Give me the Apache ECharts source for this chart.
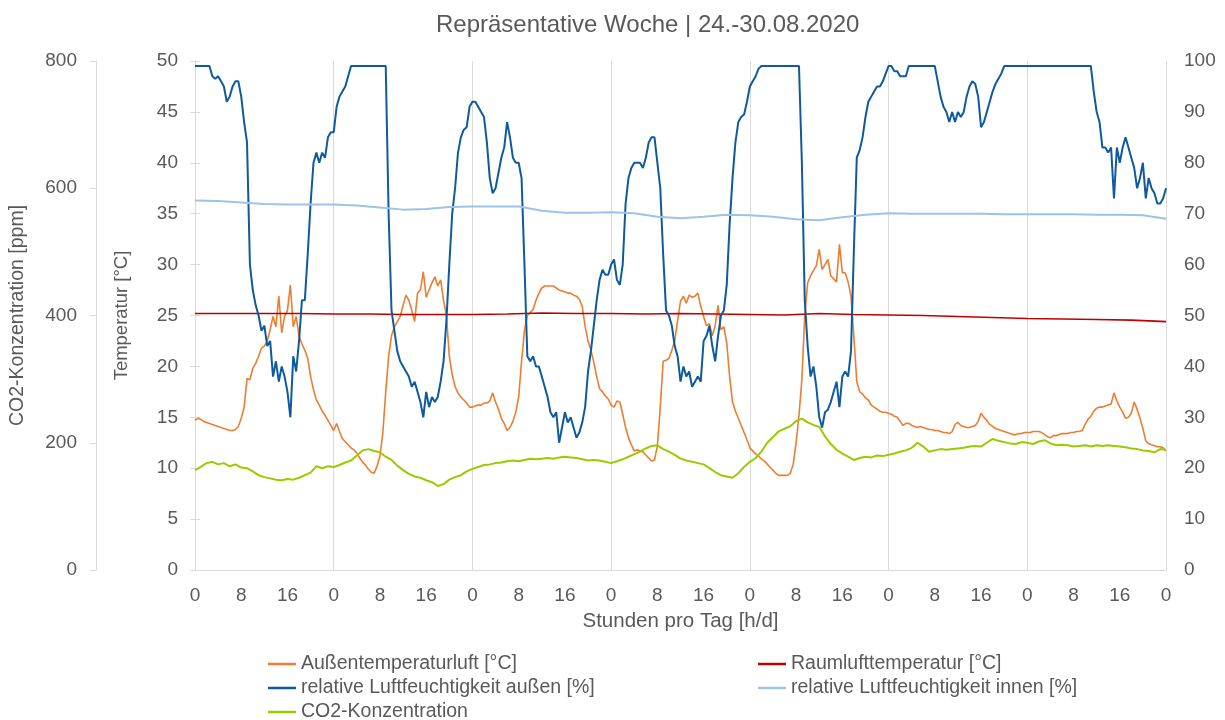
<!DOCTYPE html>
<html>
<head>
<meta charset="utf-8">
<title>Repräsentative Woche</title>
<script src="https://cdn.jsdelivr.net/npm/echarts@6/dist/echarts.min.js"></script>
<style>
  html, body { margin: 0; padding: 0; background: #fff; }
  #chart { width: 1225px; height: 720px; }
</style>
</head>
<body>
<div id="chart"></div>
<script>
// halbstündliche Werte, 0..168 h (eine Zeile = 6 Stunden)
var tempOut = [
  14.7, 14.9, 14.8, 14.6, 14.5, 14.4, 14.3, 14.2, 14.1, 14.0, 13.9, 13.8,
  13.7, 13.7, 13.8, 14.1, 14.9, 16.0, 18.8, 18.7, 19.8, 20.3, 21.0, 21.8,
  22.0, 22.5, 23.6, 24.9, 23.9, 26.9, 23.3, 24.9, 25.5, 28.0, 23.9, 24.9,
  23.0, 22.2, 21.6, 20.8, 19.0, 17.7, 16.7, 16.2, 15.6, 15.2, 14.7, 14.2,
  13.7, 14.4, 13.6, 12.9, 12.6, 12.3, 12.0, 11.8, 11.5, 11.0, 10.6, 10.3,
  9.9, 9.6, 9.5, 10.2, 11.2, 13.5, 17.5, 21.0, 23.0, 23.9, 24.4, 24.9,
  26.0, 27.0, 26.5, 25.5, 24.4, 27.2, 27.5, 29.3, 26.8, 27.5, 28.2, 28.8,
  27.9, 28.5, 26.5, 25.0, 21.0, 19.2, 18.0, 17.4, 17.0, 16.7, 16.4, 16.0,
  16.0, 16.1, 16.2, 16.2, 16.4, 16.4, 16.6, 17.4, 16.5, 15.8, 14.9, 14.4,
  13.7, 14.0, 14.6, 15.5, 17.0, 20.5, 23.5, 25.0, 25.3, 25.6, 26.5, 27.2,
  27.7, 27.9, 27.9, 27.9, 27.9, 27.7, 27.5, 27.4, 27.3, 27.2, 27.2, 27.0,
  26.9, 26.6, 25.9, 23.9, 22.5, 21.6, 20.4, 19.0, 17.8, 17.5, 17.1, 16.8,
  16.2, 16.0, 16.6, 16.5, 15.3, 14.0, 13.0, 12.3, 11.7, 11.8, 11.7, 11.6,
  11.3, 11.0, 10.7, 10.8, 12.2, 16.0, 20.5, 20.6, 20.8, 21.6, 22.5, 24.5,
  26.4, 26.9, 26.2, 27.0, 26.8, 26.9, 27.2, 25.9, 24.9, 24.0, 24.2, 23.0,
  24.0, 26.0, 23.6, 23.9, 22.3, 19.0, 16.5, 15.6, 14.9, 14.2, 13.5, 12.8,
  12.0, 11.7, 11.4, 11.2, 10.9, 10.7, 10.4, 10.1, 9.8, 9.5, 9.3, 9.3,
  9.3, 9.3, 9.5, 10.4, 12.5, 15.2, 18.7, 25.0, 28.2, 28.9, 29.4, 29.9,
  31.5, 29.5, 30.0, 30.5, 28.9, 28.6, 28.3, 32.0, 29.2, 29.2, 28.3, 26.9,
  22.9, 18.5, 17.5, 17.3, 16.9, 16.7, 16.2, 16.0, 15.8, 15.6, 15.5, 15.5,
  15.4, 15.3, 15.1, 15.0, 14.6, 14.2, 14.4, 14.4, 14.2, 14.1, 14.0, 14.1,
  14.0, 13.9, 13.8, 13.8, 13.7, 13.7, 13.6, 13.5, 13.5, 13.4, 13.6, 14.3,
  14.5, 14.2, 14.1, 14.0, 14.0, 14.1, 14.2, 14.6, 15.4, 15.0, 14.7, 14.3,
  14.1, 13.9, 13.8, 13.7, 13.6, 13.5, 13.4, 13.3, 13.3, 13.4, 13.4, 13.5,
  13.5, 13.5, 13.6, 13.6, 13.6, 13.5, 13.3, 13.1, 13.0, 13.2, 13.2, 13.3,
  13.4, 13.4, 13.4, 13.5, 13.5, 13.6, 13.6, 13.7, 14.3, 14.8, 15.1, 15.6,
  15.9, 16.0, 16.0, 16.1, 16.2, 16.3, 17.4, 16.6, 16.0, 15.5, 14.9, 15.0,
  15.4, 16.5, 15.8, 14.9, 13.9, 12.7, 12.4, 12.3, 12.2, 12.1, 12.1, 12.0,
  11.7
];

var rhOut = [
  99, 99, 99, 99, 99, 99, 97, 96.5, 97, 96, 95, 92,
  93, 95, 96, 96, 93, 88, 84, 60, 55, 52, 50, 47,
  48, 44, 45, 38, 41, 37, 40, 38, 35, 30, 42, 39,
  45, 53, 53, 62, 72, 80, 82, 80, 82, 81, 85, 86,
  86, 91, 93, 94, 95, 97, 99, 99, 99, 99, 99, 99,
  99, 99, 99, 99, 99, 99, 99, 70, 51, 47, 43, 41,
  40, 39, 38, 36, 37, 35, 33, 30, 35, 32, 34, 33,
  34, 37, 41, 49, 60, 70, 75, 82, 85, 86.5, 87, 91,
  92, 92, 91, 90, 89, 84, 77, 74, 75, 78, 81, 83,
  88, 85, 81, 80, 80, 77, 60, 42, 41, 42, 40, 40,
  38, 36, 34, 31, 30, 31, 25, 28, 31, 29, 30, 28,
  26, 27, 29, 32, 39, 43, 48, 53, 57, 59, 58, 58,
  60, 61, 57, 56, 60, 72, 77, 79, 80, 80, 80, 79,
  81, 84, 85, 85, 80, 75, 62, 51, 50, 48, 44, 42,
  37, 40, 38, 39, 36, 37, 38, 37, 45, 46, 48, 44,
  41, 46, 50, 51, 56, 68, 77, 84, 88, 89, 89.5, 92,
  95, 96, 97, 98.5, 99, 99, 99, 99, 99, 99, 99, 99,
  99, 99, 99, 99, 99, 99, 80, 53, 44, 38, 40, 36,
  30, 28, 31, 31.5, 33, 35, 37, 32, 38, 39, 38, 43,
  63, 81, 82.5, 85, 89, 92, 93, 94, 95, 95, 96, 97.5,
  99, 99, 98, 98, 97, 97, 97, 99, 99, 99, 99, 99,
  99, 99, 99, 99, 99, 96, 93, 91, 90, 88, 90, 88,
  90, 89, 90, 93, 95, 96, 95.5, 93, 87, 88, 90, 92,
  94, 95.5, 96.5, 97.5, 99, 99, 99, 99, 99, 99, 99, 99,
  99, 99, 99, 99, 99, 99, 99, 99, 99, 99, 99, 99,
  99, 99, 99, 99, 99, 99, 99, 99, 99, 99, 99, 94,
  90, 88, 83, 83, 82, 83, 73, 83, 80, 83, 85, 83,
  81, 79, 75, 77, 80, 73, 77, 75, 74, 72, 72, 73,
  75
];

// stündlich
var co2 = [
  157, 162, 168, 170, 166, 168, 163, 166, 161, 160,
  155, 149, 146, 144, 142, 141, 143, 142, 145, 149,
  153, 163, 160, 163, 162, 165, 169, 172, 180, 188,
  190, 187, 185, 178, 173, 164, 157, 151, 147, 145,
  141, 138, 132, 135, 142, 146, 149, 155, 159, 162,
  165, 166, 168, 169, 171, 172, 171, 173, 175, 174,
  175, 176, 175, 177, 178, 177, 176, 174, 172, 173,
  172, 170, 168, 171, 174, 178, 182, 186, 191, 195,
  196, 190, 186, 181, 175, 172, 170, 168, 166, 160,
  154, 149, 147, 145, 152, 162, 170, 176, 186, 200,
  209, 218, 222, 226, 234, 238, 232, 228, 225, 210,
  198, 189, 183, 178, 173, 176, 178, 177, 180, 179,
  181, 183, 186, 188, 192, 200, 194, 186, 188, 190,
  189, 190, 191, 192, 194, 195, 194, 200, 206, 203,
  201, 199, 198, 201, 200, 198, 202, 204, 199, 196,
  197, 196, 194, 195, 196, 194, 196, 195, 196, 195,
  194, 193, 191, 190, 188, 187, 185, 190, 189
];

// alle 6 Stunden
var tempRoom = [
  25.2, 25.2, 25.2, 25.2, 25.15, 25.15, 25.1, 25.1, 25.1, 25.15,
  25.25, 25.2, 25.2, 25.15, 25.2, 25.15, 25.1, 25.05, 25.2, 25.1,
  25.05, 25.0, 24.9, 24.8, 24.7, 24.65, 24.6, 24.55, 24.4
];

// alle 4 Stunden
var rhIn = [
  72.6, 72.5, 72.2, 71.9, 71.8, 71.8, 71.8, 71.6, 71.2, 70.8,
  70.9, 71.3, 71.4, 71.4, 71.4, 70.6, 70.2, 70.2, 70.3, 70.1,
  69.4, 69.1, 69.4, 69.8, 69.7, 69.4, 68.9, 68.7, 69.3, 69.8,
  70.1, 70.0, 70.0, 70.0, 70.0, 69.9, 69.9, 69.9, 69.9, 69.8,
  69.8, 69.7, 69.0
];

var xTicks = [0, 8, 16];

function withHours(values, step) {
  return values.map(function (v, i) { return [i * step, v]; });
}

var grey = '#595959';
var lineGrey = '#d9d9d9';
var fontFam = '"Liberation Sans", Arial, sans-serif';

var chart = echarts.init(document.getElementById('chart'));

var legendBase = {
  orient: 'vertical',
  top: 652,
  height: 90,
  padding: 0,
  itemGap: 0,
  icon: 'rect',
  itemWidth: 28,
  itemHeight: 2.5,
  textStyle: { color: grey, fontSize: 19.5, lineHeight: 24, fontFamily: fontFam }
};

var option = {
  animation: false,
  backgroundColor: '#fff',
  textStyle: { fontFamily: fontFam },
  title: {
    text: 'Repräsentative Woche | 24.-30.08.2020',
    left: 431,
    top: 8,
    textStyle: { color: grey, fontSize: 24, fontWeight: 'normal', fontFamily: fontFam }
  },
  grid: { left: 195, right: 59, top: 61, bottom: 150 },
  legend: [
    Object.assign({}, legendBase, {
      left: 268,
      data: ['Außentemperaturluft [°C]', 'relative Luftfeuchtigkeit außen [%]', 'CO2-Konzentration']
    }),
    Object.assign({}, legendBase, {
      left: 758,
      data: ['Raumlufttemperatur [°C]', 'relative Luftfeuchtigkeit innen [%]']
    })
  ],
  xAxis: [
    {
      type: 'value',
      min: 0,
      max: 168,
      interval: 8,
      name: 'Stunden pro Tag [h/d]',
      nameLocation: 'middle',
      nameGap: 41,
      nameTextStyle: { color: grey, fontSize: 20.5, fontFamily: fontFam },
      axisLine: { show: true, lineStyle: { color: lineGrey } },
      axisTick: { show: false },
      axisLabel: {
        color: grey,
        fontSize: 19,
        margin: 16,
        fontFamily: fontFam,
        formatter: function (v) { return String(xTicks[(v % 24) / 8]); }
      },
      splitLine: { show: false }
    },
    {
      // nur die Tages-Gitterlinien
      type: 'value',
      min: 0,
      max: 168,
      interval: 24,
      axisLine: { show: false },
      axisTick: { show: false },
      axisLabel: { show: false },
      splitLine: { show: true, lineStyle: { color: lineGrey, width: 1 } }
    }
  ],
  yAxis: [
    {
      type: 'value',
      position: 'left',
      min: 0,
      max: 50,
      interval: 5,
      name: 'Temperatur [°C]',
      nameLocation: 'middle',
      nameGap: 64,
      nameRotate: 90,
      nameTextStyle: { color: grey, fontSize: 18.5, fontFamily: fontFam },
      axisLine: { show: true, lineStyle: { color: lineGrey } },
      axisTick: { show: true, length: 5, lineStyle: { color: lineGrey } },
      axisLabel: { color: grey, fontSize: 19, margin: 17, fontFamily: fontFam },
      splitLine: { show: false }
    },
    {
      type: 'value',
      position: 'right',
      min: 0,
      max: 100,
      interval: 10,
      axisLine: { show: true, lineStyle: { color: lineGrey } },
      axisTick: { show: true, length: 5, lineStyle: { color: lineGrey } },
      axisLabel: { color: grey, fontSize: 19, margin: 18, fontFamily: fontFam },
      splitLine: { show: false }
    },
    {
      type: 'value',
      position: 'left',
      offset: 99,
      min: 0,
      max: 800,
      interval: 200,
      name: 'CO2-Konzentration [ppm]',
      nameLocation: 'middle',
      nameGap: 68,
      nameRotate: 90,
      nameTextStyle: { color: grey, fontSize: 19.5, fontFamily: fontFam },
      axisLine: { show: true, lineStyle: { color: lineGrey } },
      axisTick: { show: true, length: 6, lineStyle: { color: lineGrey } },
      axisLabel: { color: grey, fontSize: 19, margin: 19, fontFamily: fontFam },
      splitLine: { show: false }
    }
  ],
  series: [
    {
      name: 'Außentemperaturluft [°C]',
      type: 'line',
      yAxisIndex: 0,
      showSymbol: false,
      color: '#ED7D31',
      lineStyle: { width: 1.6 },
      data: withHours(tempOut, 0.5)
    },
    {
      name: 'Raumlufttemperatur [°C]',
      type: 'line',
      yAxisIndex: 0,
      showSymbol: false,
      color: '#C00000',
      lineStyle: { width: 1.6 },
      data: withHours(tempRoom, 6)
    },
    {
      name: 'relative Luftfeuchtigkeit außen [%]',
      type: 'line',
      yAxisIndex: 1,
      showSymbol: false,
      color: '#0F5A9C',
      lineStyle: { width: 2 },
      data: withHours(rhOut, 0.5)
    },
    {
      name: 'relative Luftfeuchtigkeit innen [%]',
      type: 'line',
      yAxisIndex: 1,
      showSymbol: false,
      color: '#9DC3E6',
      lineStyle: { width: 2 },
      data: withHours(rhIn, 4)
    },
    {
      name: 'CO2-Konzentration',
      type: 'line',
      yAxisIndex: 2,
      showSymbol: false,
      color: '#99CC00',
      lineStyle: { width: 2 },
      data: withHours(co2, 1)
    }
  ]
};

chart.setOption(option);
window.addEventListener('resize', function () { chart.resize(); });
</script>
</body>
</html>
